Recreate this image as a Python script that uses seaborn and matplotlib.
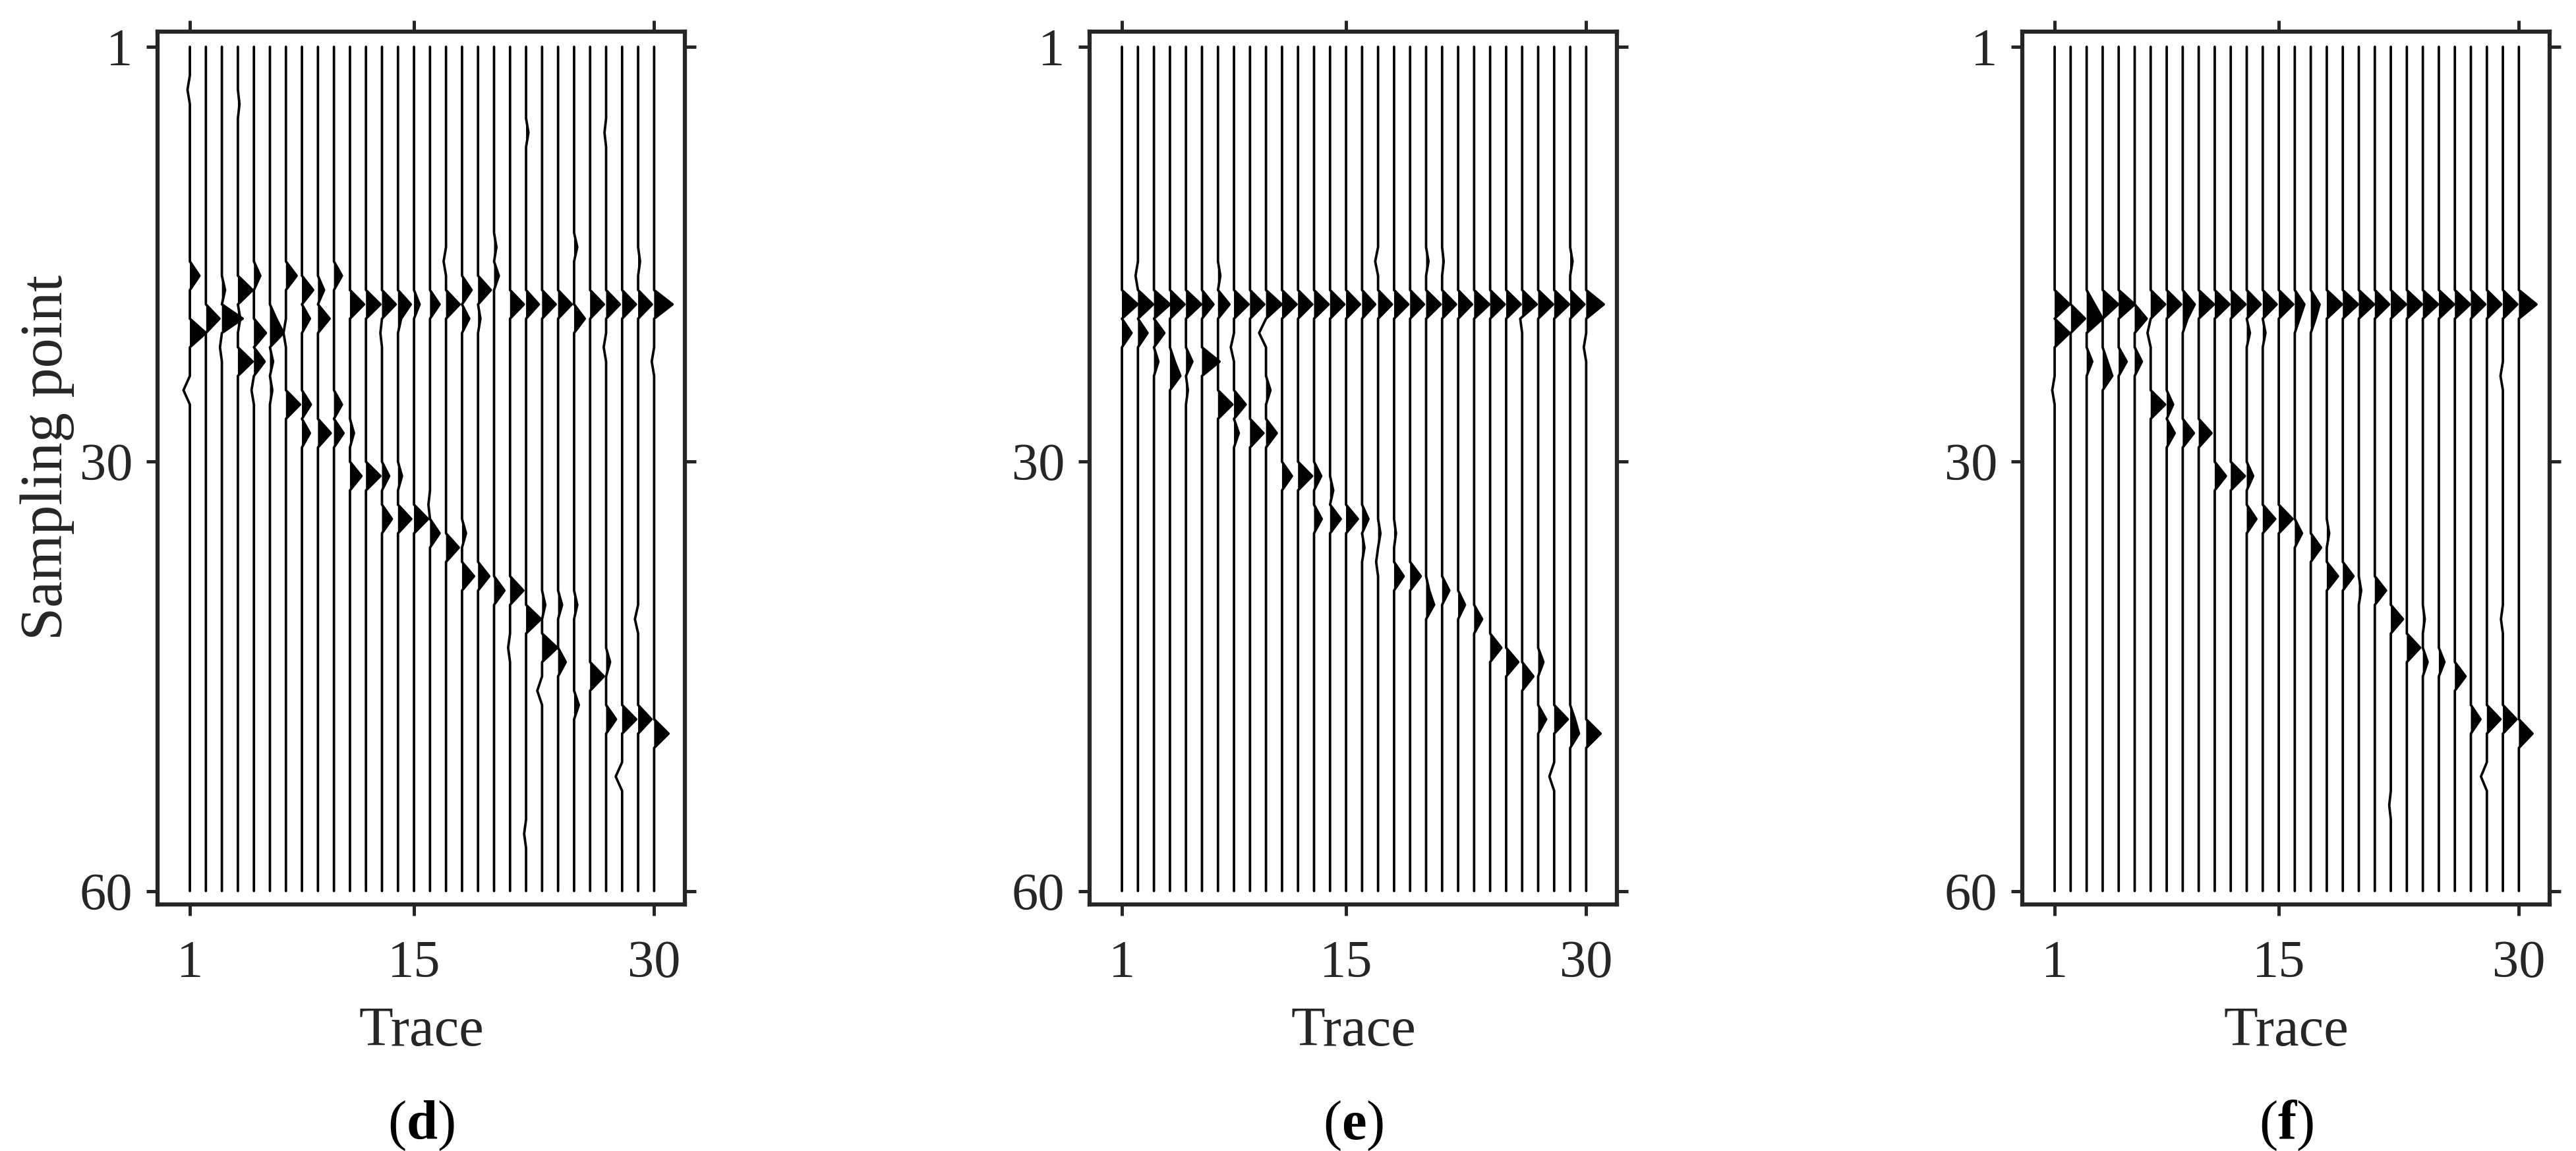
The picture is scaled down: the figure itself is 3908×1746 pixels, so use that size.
import numpy as np
import pandas as pd
import matplotlib
matplotlib.use("Agg")
import matplotlib.pyplot as plt
import seaborn as sns

# 30 traces x 60 samples, wiggle display
traces = np.arange(1, 31)
samples = np.arange(1, 61)
x_ticks = [1, 15, 30]
y_ticks = [1, 30, 60]
panel_names = ["d", "e", "f"]

# (trace, sample, amplitude in trace spacings), everything else is 0
spikes_d = [
    (1, 4, -0.15), (1, 17, 0.6), (1, 21, 1.0), (1, 25, -0.4),
    (2, 20, 0.85),
    (3, 18, 0.2), (3, 20, 1.3), (3, 22, -0.12),
    (4, 5, 0.1), (4, 18, 0.92), (4, 20, 0.15), (4, 23, 0.92),
    (5, 17, 0.4), (5, 21, 0.75), (5, 23, 0.67), (5, 25, -0.15),
    (6, 20, 0.4), (6, 21, 0.85), (6, 23, 0.2), (6, 25, 0.15),
    (7, 17, 0.67), (7, 21, -0.15), (7, 26, 0.88),
    (8, 18, 0.7), (8, 20, 0.5), (8, 26, 0.56), (8, 28, 0.5),
    (9, 18, 0.38), (9, 20, 0.73), (9, 28, 0.8),
    (10, 17, 0.5), (10, 26, 0.5), (10, 28, 0.6),
    (11, 19, 0.88), (11, 28, 0.25), (11, 31, 0.72),
    (12, 19, 0.9), (12, 31, 0.9),
    (13, 19, 0.86), (13, 21, -0.1), (13, 31, 0.45), (13, 34, 0.62),
    (14, 19, 0.8), (14, 20, 0.2), (14, 31, 0.25), (14, 34, 0.83),
    (15, 19, 0.35), (15, 34, 0.88),
    (16, 19, 0.6), (16, 33, -0.1), (16, 35, 0.6),
    (17, 16, -0.15), (17, 19, 0.85), (17, 36, 0.8),
    (18, 18, 0.6), (18, 20, 0.45), (18, 35, 0.25), (18, 38, 0.75),
    (19, 18, 0.8), (19, 20, 0.15), (19, 38, 0.7),
    (20, 15, 0.15), (20, 17, 0.3), (20, 39, 0.65),
    (21, 19, 0.86), (21, 39, 0.83), (21, 43, -0.12),
    (22, 7, 0.15), (22, 19, 0.8), (22, 41, 0.93), (22, 56, -0.12),
    (23, 19, 0.85), (23, 40, 0.2), (23, 43, 0.95), (23, 46, -0.3),
    (24, 19, 0.85), (24, 40, 0.25), (24, 44, 0.48),
    (25, 15, 0.2), (25, 20, 0.67), (25, 40, 0.2), (25, 47, 0.3),
    (26, 19, 0.86), (26, 45, 0.86),
    (27, 7, -0.1), (27, 19, 0.86), (27, 22, -0.15), (27, 44, 0.25), (27, 48, 0.62),
    (28, 19, 0.86), (28, 48, 0.88), (28, 52, -0.4),
    (29, 16, 0.12), (29, 19, 0.86), (29, 41, -0.2), (29, 48, 0.83),
    (30, 19, 1.15), (30, 23, -0.15), (30, 49, 0.9),
]

spikes_e = [
    (1, 19, 0.98), (1, 21, 0.6),
    (2, 17, -0.15), (2, 19, 0.95), (2, 21, 0.6),
    (3, 19, 1.0), (3, 21, 0.65), (3, 23, 0.28),
    (4, 19, 0.91), (4, 23, 0.3), (4, 24, 0.65),
    (5, 19, 0.95), (5, 23, 0.4), (5, 25, 0.12),
    (6, 19, 0.72), (6, 23, 1.1),
    (7, 17, 0.15), (7, 19, 0.72), (7, 26, 0.9),
    (8, 19, 0.91), (8, 22, -0.2), (8, 26, 0.73), (8, 28, 0.3),
    (9, 19, 0.89), (9, 28, 0.84),
    (10, 19, 0.98), (10, 21, -0.43), (10, 25, 0.28), (10, 28, 0.67),
    (11, 19, 0.91), (11, 31, 0.62),
    (12, 19, 0.89), (12, 31, 0.88),
    (13, 19, 0.91), (13, 31, 0.45), (13, 34, 0.48),
    (14, 19, 0.89), (14, 32, 0.2), (14, 34, 0.67),
    (15, 19, 0.87), (15, 34, 0.74),
    (16, 19, 0.82), (16, 34, 0.4), (16, 36, 0.15),
    (17, 16, -0.18), (17, 19, 0.87), (17, 35, 0.15), (17, 37, -0.12),
    (18, 19, 0.89), (18, 35, 0.12), (18, 38, 0.6),
    (19, 19, 0.87), (19, 38, 0.67),
    (20, 16, 0.15), (20, 19, 0.91), (20, 39, 0.2), (20, 40, 0.5),
    (21, 16, 0.1), (21, 19, 0.87), (21, 39, 0.45),
    (22, 19, 0.87), (22, 40, 0.43),
    (23, 19, 0.95), (23, 41, 0.5),
    (24, 19, 0.91), (24, 43, 0.7),
    (25, 19, 0.91), (25, 44, 0.76),
    (26, 19, 0.91), (26, 20, -0.12), (26, 45, 0.7),
    (27, 19, 0.93), (27, 44, 0.33), (27, 48, 0.5),
    (28, 19, 0.93), (28, 48, 0.85), (28, 52, -0.3),
    (29, 16, 0.15), (29, 19, 0.89), (29, 48, 0.3), (29, 49, 0.55),
    (30, 19, 1.1), (30, 22, -0.15), (30, 49, 0.9),
]

spikes_f = [
    (1, 19, 0.93), (1, 21, 0.93), (1, 25, -0.15),
    (2, 20, 0.9),
    (3, 19, 0.5), (3, 20, 1.0), (3, 23, 0.35),
    (4, 19, 0.97), (4, 23, 0.3), (4, 24, 0.6),
    (5, 19, 1.0), (5, 23, 0.5),
    (6, 20, 0.75), (6, 23, 0.45),
    (7, 19, 0.9), (7, 21, -0.2), (7, 26, 0.9),
    (8, 19, 0.9), (8, 26, 0.4), (8, 28, 0.5),
    (9, 19, 0.75), (9, 20, 0.3), (9, 28, 0.7),
    (10, 19, 0.95), (10, 28, 0.8),
    (11, 19, 0.92), (11, 31, 0.7),
    (12, 19, 0.92), (12, 31, 0.88),
    (13, 19, 0.87), (13, 21, 0.2), (13, 31, 0.4), (13, 34, 0.6),
    (14, 19, 0.87), (14, 21, 0.17), (14, 34, 0.78),
    (15, 19, 0.9), (15, 34, 0.86),
    (16, 19, 0.6), (16, 20, 0.3), (16, 35, 0.45),
    (17, 19, 0.55), (17, 20, 0.3), (17, 36, 0.64),
    (18, 19, 0.95), (18, 35, 0.15), (18, 38, 0.7),
    (19, 19, 0.95), (19, 38, 0.67),
    (20, 19, 0.95), (20, 39, 0.15),
    (21, 19, 0.9), (21, 39, 0.7),
    (22, 19, 0.95), (22, 41, 0.76), (22, 54, -0.1),
    (23, 19, 0.95), (23, 43, 0.83),
    (24, 19, 0.95), (24, 41, 0.12), (24, 44, 0.3),
    (25, 19, 0.95), (25, 44, 0.35),
    (26, 19, 0.95), (26, 45, 0.67),
    (27, 19, 0.9), (27, 48, 0.6),
    (28, 19, 0.9), (28, 48, 0.85), (28, 52, -0.37),
    (29, 19, 0.9), (29, 24, -0.15), (29, 41, -0.12), (29, 48, 0.85),
    (30, 19, 1.1), (30, 49, 0.85),
]


def build_section(spikes):
    amp = np.zeros((len(samples), len(traces)))
    for tr, s, a in spikes:
        amp[s - 1, tr - 1] = a
    return amp


sns.set_theme(style="ticks")
plt.rcParams["font.family"] = ["Liberation Serif", "DejaVu Serif"]
plt.rcParams["mathtext.fontset"] = "custom"
plt.rcParams["mathtext.rm"] = "Liberation Serif"
plt.rcParams["mathtext.bf"] = "Liberation Serif:bold"

fig = plt.figure(figsize=(39.08, 17.46), dpi=100)
W, H = 3908, 1746
lefts = [239, 1653, 3068]
dark = "#262626"

for k, (left, name, spikes) in enumerate(zip(lefts, panel_names, [spikes_d, spikes_e, spikes_f])):
    ax = fig.add_axes([left / W, (H - 1372) / H, 800 / W, 1324 / H])
    amp = build_section(spikes)

    df = pd.DataFrame({
        "trace": np.repeat(traces, len(samples)),
        "sample": np.tile(samples, len(traces)),
        "x": (traces[None, :] + amp).T.ravel(),
    })
    for j, tr in enumerate(traces):
        ax.fill_betweenx(samples, tr, tr + amp[:, j], where=amp[:, j] > 0,
                         interpolate=True, color="black", lw=0)
    sns.lineplot(data=df, x="x", y="sample", units="trace", estimator=None,
                 orient="y", color="black", lw=2.7, ax=ax)

    ax.set_xlim(-1.02, 31.92)
    ax.set_ylim(60.94, -0.06)
    ax.set_xticks(x_ticks)
    ax.set_yticks(y_ticks)
    for sp in ax.spines.values():
        sp.set_linewidth(4.5)
        sp.set_color(dark)
        sp.set_visible(True)
    ax.tick_params(direction="out", length=12, width=3.6, color=dark,
                   top=True, right=True, labeltop=False, labelright=False,
                   labelsize=58, labelcolor=dark)
    ax.tick_params(axis="x", pad=27)
    ax.tick_params(axis="y", pad=15)

    ax.set_xlabel("Trace", fontsize=61, color=dark)
    ax.xaxis.set_label_coords(0.5, -0.117)
    if k == 0:
        ax.set_ylabel("Sampling point", fontsize=65, color=dark)
        ax.yaxis.set_label_coords(-0.158, 0.512)
    else:
        ax.set_ylabel("")

    ax.text(0.5, -0.269, r"$\mathrm{(}\mathbf{" + name + r"}\mathrm{)}$",
            transform=ax.transAxes, ha="center", va="baseline", fontsize=61,
            color="black")

fig.savefig("out.png", dpi=100, facecolor="white")
